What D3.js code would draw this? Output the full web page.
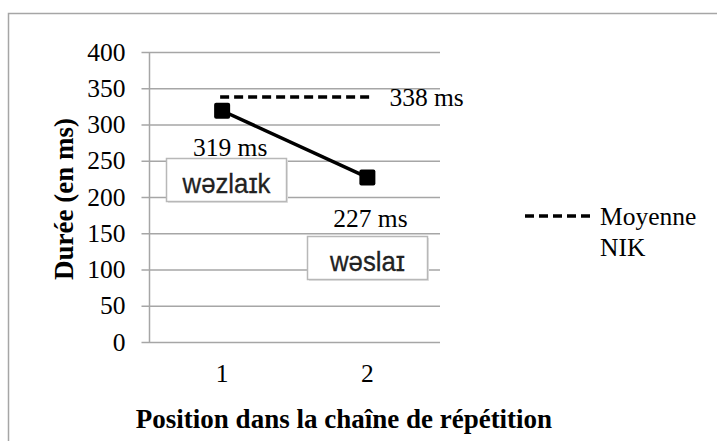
<!DOCTYPE html>
<html>
<head>
<meta charset="utf-8">
<script src="https://cdn.jsdelivr.net/npm/d3@7"></script>
<style>
    body { margin: 0; background: #fff; }
    svg { display: block; }
    .serif { font-family: "Liberation Serif", "Times New Roman", serif; fill: #000; }
    .axisTitle { font-weight: bold; }
    .gridLine { stroke: #a6a6a6; stroke-width: 1.5; }
    .ipaBox { fill: #fff; stroke: #b8b8b8; stroke-width: 1.5; }
    .ipaText { font-family: "Liberation Sans", Arial, sans-serif; fill: #222; stroke: #222; stroke-width: 0.3; }
</style>
</head>
<body>
<div id="chartContainer"></div>
<script>
/***** chart values */

const positions = ['1', '2'];
const durations = [319, 227];
const durationLabels = ['319 ms', '227 ms'];
const ipaWords = ['wəzlaɪk', 'wəslaɪ'];
const nikAverage = 338;
const nikLabel = '338 ms';
const yTicks = [0, 50, 100, 150, 200, 250, 300, 350, 400];
const legendLines = ['Moyenne', 'NIK'];

/***** drawing */

const width = 717;
const height = 441;
const plot = { left: 149.5, right: 440, top: 52, bottom: 342 };

const svg = d3.select('#chartContainer').append('svg')
    .attr('width', width)
    .attr('height', height);

// outer chart frame, only top and left edges fall inside the picture
svg.append('rect')
    .attr('x', 8.5)
    .attr('y', 13.5)
    .attr('width', width + 20)
    .attr('height', height + 20)
    .attr('fill', 'none')
    .attr('stroke', '#a6a6a6')
    .attr('stroke-width', 1.5);

const x = d3.scaleBand()
    .domain(positions)
    .range([plot.left, plot.right]);

const y = d3.scaleLinear()
    .domain([0, 400])
    .range([plot.bottom, plot.top]);

// horizontal gridlines with short outer ticks
const yAxis = d3.axisLeft(y)
    .tickValues(yTicks)
    .tickSize(8)
    .tickPadding(16);

const yAxisGroup = svg.append('g')
    .attr('transform', `translate(${plot.left},0)`)
    .call(yAxis);
yAxisGroup.select('.domain').remove();
yAxisGroup.selectAll('line').attr('class', 'gridLine').attr('x2', -8).attr('x1', plot.right - plot.left);
yAxisGroup.selectAll('text')
    .attr('class', 'serif')
    .style('font-size', '25.5px');

svg.append('line')
    .attr('class', 'gridLine')
    .attr('x1', plot.left)
    .attr('x2', plot.left)
    .attr('y1', plot.top)
    .attr('y2', plot.bottom);

// category labels under the plot
svg.selectAll('.xTick')
    .data(positions)
    .enter()
    .append('text')
    .attr('class', 'xTick serif')
    .attr('x', p => x(p) + x.bandwidth() / 2)
    .attr('y', 382)
    .attr('text-anchor', 'middle')
    .style('font-size', '25.5px')
    .text(p => p);

// axis titles
svg.append('text')
    .attr('class', 'serif axisTitle')
    .attr('x', 344)
    .attr('y', 428)
    .attr('text-anchor', 'middle')
    .style('font-size', '27px')
    .text('Position dans la chaîne de répétition');

svg.append('text')
    .attr('class', 'serif axisTitle')
    .attr('transform', `translate(73,${(plot.top + plot.bottom) / 2 + 2}) rotate(-90)`)
    .attr('text-anchor', 'middle')
    .style('font-size', '27px')
    .text('Durée (en ms)');

// NIK average as a dashed line across both positions
const center = p => x(p) + x.bandwidth() / 2;

svg.append('line')
    .attr('x1', center(positions[0]) - 2)
    .attr('x2', center(positions[1]) + 2)
    .attr('y1', y(nikAverage))
    .attr('y2', y(nikAverage))
    .attr('stroke', '#000')
    .attr('stroke-width', 3.5)
    .attr('stroke-dasharray', '9,5');

svg.append('text')
    .attr('class', 'serif')
    .attr('x', center(positions[1]) + 22)
    .attr('y', y(nikAverage) + 9)
    .style('font-size', '25.5px')
    .text(nikLabel);

// duration series
const points = positions.map((p, i) => [center(p), y(durations[i])]);

svg.append('path')
    .attr('d', d3.line()(points))
    .attr('fill', 'none')
    .attr('stroke', '#000')
    .attr('stroke-width', 3.5);

svg.selectAll('.marker')
    .data(points)
    .enter()
    .append('rect')
    .attr('class', 'marker')
    .attr('x', d => d[0] - 8)
    .attr('y', d => d[1] - 8)
    .attr('width', 16)
    .attr('height', 16)
    .attr('rx', 2)
    .attr('fill', '#000');

// value labels, and the word boxes under them
const labelOffsets = [[8, 45], [3, 50]];

svg.selectAll('.valueLabel')
    .data(durationLabels)
    .enter()
    .append('text')
    .attr('class', 'valueLabel serif')
    .attr('x', (d, i) => points[i][0] + labelOffsets[i][0])
    .attr('y', (d, i) => points[i][1] + labelOffsets[i][1])
    .attr('text-anchor', 'middle')
    .style('font-size', '25.5px')
    .text(d => d);

const boxWidth = 120;
const boxHeight = 43;
const boxCenters = [[226.5, 180], [367.5, 258]];

const ipaGroups = svg.selectAll('.ipaGroup')
    .data(ipaWords)
    .enter()
    .append('g')
    .attr('class', 'ipaGroup')
    .attr('transform', (d, i) => `translate(${boxCenters[i][0]},${boxCenters[i][1]})`);

ipaGroups.append('rect')
    .attr('x', -boxWidth / 2 + 1.5)
    .attr('y', -boxHeight / 2 + 1.5)
    .attr('width', boxWidth)
    .attr('height', boxHeight)
    .attr('fill', '#e4e4e4');

ipaGroups.append('rect')
    .attr('class', 'ipaBox')
    .attr('x', -boxWidth / 2)
    .attr('y', -boxHeight / 2)
    .attr('width', boxWidth)
    .attr('height', boxHeight);

// the word glyphs are a bit taller and narrower than plain Liberation Sans
ipaGroups.append('text')
    .attr('class', 'ipaText')
    .attr('transform', 'translate(0,13) scale(0.92,1)')
    .attr('text-anchor', 'middle')
    .style('font-size', '28px')
    .text(d => d);

// legend
const legend = svg.append('g')
    .attr('transform', 'translate(525,216)');

legend.append('line')
    .attr('x1', 0)
    .attr('x2', 70)
    .attr('stroke', '#000')
    .attr('stroke-width', 3.5)
    .attr('stroke-dasharray', '9,5');

legend.selectAll('text')
    .data(legendLines)
    .enter()
    .append('text')
    .attr('class', 'serif')
    .attr('x', 75)
    .attr('y', (d, i) => 9 + i * 31)
    .style('font-size', '25.5px')
    .text(d => d);
</script>
</body>
</html>
